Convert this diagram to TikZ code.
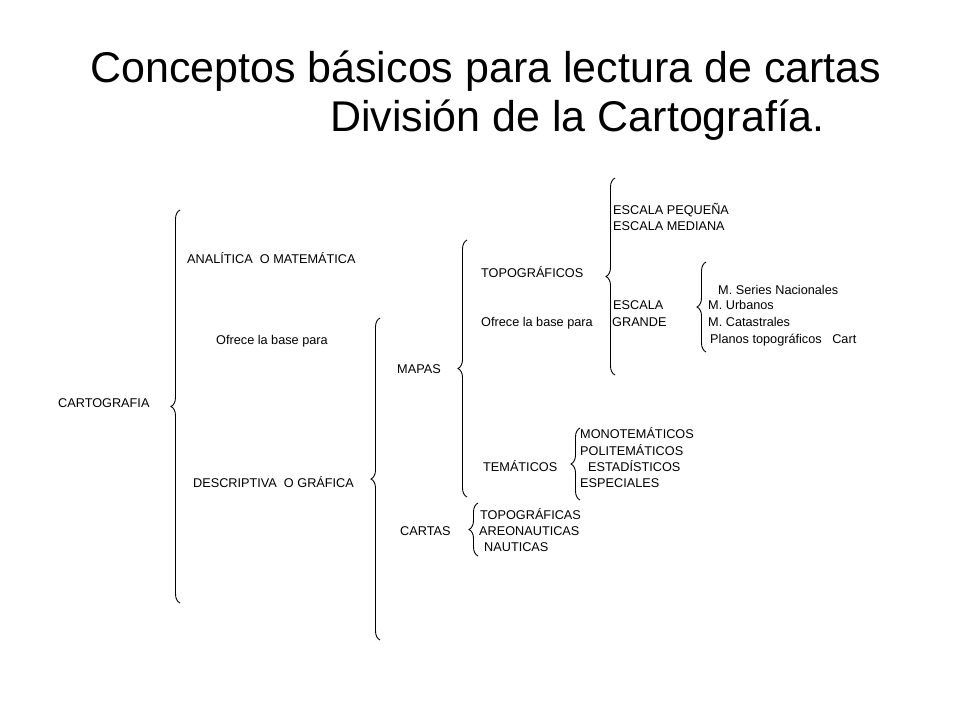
\documentclass[tikz,border=0pt]{standalone}
\usepackage{fontspec}
\setmainfont{Liberation Sans}
\usetikzlibrary{decorations.pathreplacing}
\begin{document}
\begin{tikzpicture}[x=1pt,y=-1pt,
  t/.style={inner sep=0pt,anchor=base west,font=\fontsize{12.7}{14}\selectfont},
  ttl/.style={inner sep=0pt,anchor=base west,font=\fontsize{43}{48}\selectfont},
  br/.style={decorate,decoration={brace,amplitude=9pt,aspect=#1},line width=0.9pt}]
\useasboundingbox (0,0) rectangle (960,720);
\node[ttl] (t1) at (90,82) {Conceptos básicos para lectura de cartas};
\node[ttl] (t2) at (330,131) {División de la Cartografía.};
\coordinate (b1a) at (180,210); \coordinate (b1b) at (180,603);
\draw[br=0.5] (b1b) -- (b1a);
\coordinate (b2a) at (380,318); \coordinate (b2b) at (380,640);
\draw[br=0.5] (b2b) -- (b2a);
\coordinate (b3a) at (467,240); \coordinate (b3b) at (467,497);
\draw[br=0.5] (b3b) -- (b3a);
\coordinate (b4a) at (615,178); \coordinate (b4b) at (615,375);
\draw[br=0.5] (b4b) -- (b4a);
\coordinate (b5a) at (706,262); \coordinate (b5b) at (706,352);
\draw[br=0.5] (b5b) -- (b5a);
\coordinate (b6a) at (580,428); \coordinate (b6b) at (580,500);
\draw[br=0.5] (b6b) -- (b6a);
\coordinate (b7a) at (478,503); \coordinate (b7b) at (478,556);
\draw[br=0.5] (b7b) -- (b7a);
\node[t] (n1) at (187,263) {ANALÍTICA\ \ O MATEMÁTICA};
\node[t] (n2) at (216,344) {Ofrece la base para};
\node[t] (n3) at (58,407) {CARTOGRAFIA};
\node[t] (n4) at (193,487) {DESCRIPTIVA\ \ O GRÁFICA};
\node[t] (n5) at (397,373) {MAPAS};
\node[t] (n6) at (481,277) {TOPOGRÁFICOS};
\node[t] (n7) at (481,326) {Ofrece la base para};
\node[t] (n8) at (613,214) {ESCALA PEQUEÑA};
\node[t] (n9) at (613,230) {ESCALA MEDIANA};
\node[t] (n10) at (613,309) {ESCALA};
\node[t] (n11) at (612,326) {GRANDE};
\node[t] (n12) at (718,294) {M. Series Nacionales};
\node[t] (n13) at (708,309) {M. Urbanos};
\node[t] (n14) at (708,326) {M. Catastrales};
\node[t] (n15) at (710,343) {Planos topográficos\ \ \ Cart};
\node[t] (n16) at (580,438) {MONOTEMÁTICOS};
\node[t] (n17) at (580,455) {POLITEMÁTICOS};
\node[t] (n18) at (483,471) {TEMÁTICOS};
\node[t] (n19) at (588,471) {ESTADÍSTICOS};
\node[t] (n20) at (580,487) {ESPECIALES};
\node[t] (n21) at (480,519) {TOPOGRÁFICAS};
\node[t] (n22) at (400,535) {CARTAS};
\node[t] (n23) at (479,535) {AREONAUTICAS};
\node[t] (n24) at (484,551) {NAUTICAS};
\end{tikzpicture}
\end{document}
